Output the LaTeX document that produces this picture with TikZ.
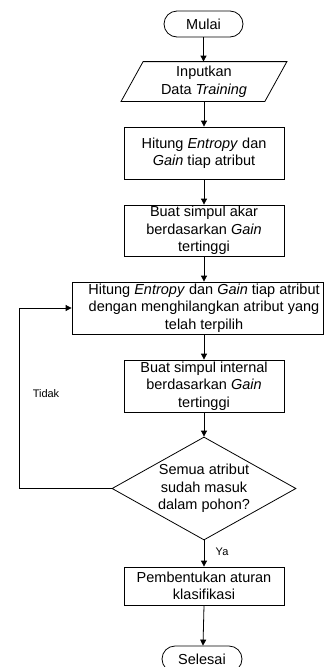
\documentclass[tikz,border=0pt]{standalone}
\usepackage{fontspec}
\setmainfont{Liberation Sans}
\usetikzlibrary{shapes.geometric,arrows.meta,calc}
\begin{document}
\begin{tikzpicture}[x=1pt,y=-1pt,
  line width=0.8pt,
  every node/.style={font=\fontsize{14.5pt}{17.5pt}\selectfont},
  box/.style={draw,rectangle,minimum width=160pt,align=center,inner sep=0pt},
  term/.style={draw,rectangle,rounded corners=13pt,minimum width=79pt,minimum height=26pt,inner sep=0pt},
  arr/.style={-{Triangle[length=6pt,width=6pt]}},
  lbl/.style={font=\fontsize{11pt}{13pt}\selectfont}]
\useasboundingbox (0,0) rectangle (324,667);
\node[term] (start) at (203.5,24) {Mulai};
\node[align=center,minimum width=143pt,minimum height=39pt,inner sep=0pt] (in) at (204,81.5) {Inputkan\\Data \textit{Training}};
\draw ([xshift=11pt]in.north west) -- ([xshift=11pt]in.north east) -- ([xshift=-11pt]in.south east) -- ([xshift=-11pt]in.south west) -- cycle;
\node[box,minimum height=52pt] (b1) at (204,153) {Hitung \textit{Entropy} dan\\\textit{Gain} tiap atribut};
\node[box,minimum height=51pt] (b2) at (204,230.5) {Buat simpul akar\\berdasarkan \textit{Gain}\\tertinggi};
\node[draw,rectangle,minimum width=251pt,minimum height=52pt,inner sep=0pt] (b3) at (197.5,308) {};
\node[align=center,inner sep=0pt] (b3t) at (204,308) {Hitung \textit{Entropy} dan \textit{Gain} tiap atribut\\dengan menghilangkan atribut yang\\telah terpilih};
\node[box,minimum height=52pt] (b4) at (204,386) {Buat simpul internal\\berdasarkan \textit{Gain}\\tertinggi};
\node[draw,diamond,aspect=1.79,inner sep=0pt,minimum width=184pt,minimum height=103pt,align=center] (dia) at (204,488.5) {Semua atribut\\sudah masuk\\dalam pohon?};
\node[box,minimum height=38pt] (b5) at (204,586) {Pembentukan aturan\\klasifikasi};
\node[term,minimum width=80pt] (end) at (202,659) {Selesai};
\coordinate (lp) at (19,0);
\draw[arr] (start) -- (start |- in.north);
\draw[arr] (in.south) -- (b1.north);
\draw[arr] (b1) -- (b2);
\draw[arr] (b2.south) -- (b2.south |- b3.north);
\draw[arr] (b3.south -| b4.north) -- (b4.north);
\draw[arr] (b4) -- (dia);
\draw[arr] (dia) -- (b5);
\node[lbl,anchor=west] (ya) at (212,552) {Ya};
\draw[arr] (b5.south) -- ([xshift=1pt]end.north);
\draw[arr] (dia.west) -- (dia.west -| lp) |- (b3.west);
\node[lbl] (tidak) at (46,394) {Tidak};
\end{tikzpicture}
\end{document}
